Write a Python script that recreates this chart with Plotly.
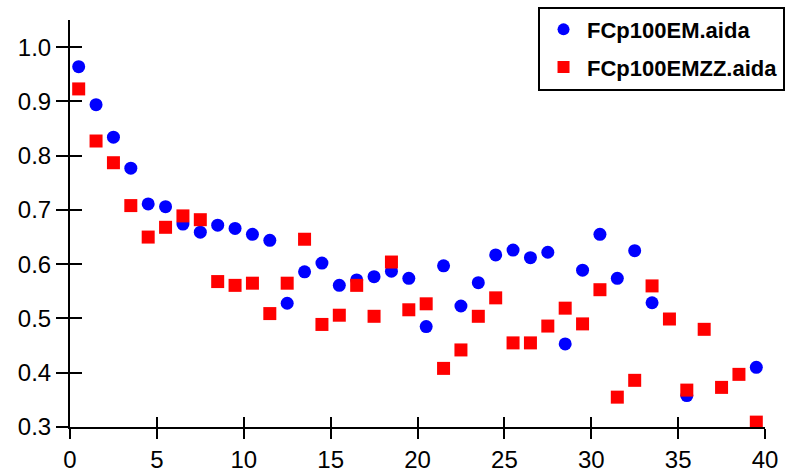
import plotly.graph_objects as go

# Bin centres (40 bins of width 1 between 0 and 40)
bins = [i + 0.5 for i in range(40)]

# Efficiency per bin, FCp100EM.aida (None where the value lies below the axis range)
em_values = [
    0.964, 0.894, 0.834, 0.777, 0.711, 0.706, 0.674, 0.659, 0.672, 0.666,
    0.655, 0.644, 0.528, 0.586, 0.602, 0.561, 0.571, 0.577, 0.587, 0.574,
    0.485, 0.597, 0.523, 0.566, 0.617, 0.626, 0.612, 0.622, 0.453, 0.589,
    0.655, 0.574, 0.625, 0.529, None, 0.358, None, None, None, 0.410,
]

# Efficiency per bin, FCp100EMZZ.aida
emzz_values = [
    0.923, 0.827, 0.787, 0.708, 0.650, 0.668, 0.689, 0.682, 0.568, 0.561,
    0.565, 0.509, 0.565, 0.646, 0.489, 0.506, 0.561, 0.504, 0.604, 0.516,
    0.527, 0.408, 0.442, 0.504, 0.538, 0.455, 0.455, 0.486, 0.519, 0.490,
    0.553, 0.355, 0.386, 0.560, 0.499, 0.368, 0.480, 0.373, 0.397, 0.309,
]

x_ticks = [0, 5, 10, 15, 20, 25, 30, 35, 40]
y_ticks = [0.3, 0.4, 0.5, 0.6, 0.7, 0.8, 0.9, 1.0]

FONT = "Liberation Sans, Arial, sans-serif"

fig = go.Figure()
fig.add_trace(go.Scatter(
    x=bins, y=em_values, mode="markers", name="FCp100EM.aida",
    legendgroup="em",
    marker=dict(symbol="circle", size=13, color="#0000ff", line=dict(width=0)),
))
fig.add_trace(go.Scatter(
    x=bins, y=emzz_values, mode="markers", name="FCp100EMZZ.aida",
    legendgroup="emzz",
    marker=dict(symbol="square", size=13, color="#ff0000", line=dict(width=0)),
))
# transparent copy on the overlaid axes so their inner tick marks are drawn
fig.add_trace(go.Scatter(x=bins, y=emzz_values, xaxis="x2", yaxis="y2",
                         mode="markers", marker=dict(opacity=0),
                         showlegend=False, hoverinfo="skip"))

axis_common = dict(showgrid=False, zeroline=False, tickcolor="black",
                   tickwidth=2)

fig.update_layout(
    width=788, height=476,
    margin=dict(l=70, r=23, t=20, b=49, autoexpand=False),
    paper_bgcolor="white", plot_bgcolor="white",
    font=dict(family=FONT, size=24, color="black"),
    xaxis=dict(range=[0, 40], tickvals=x_ticks, ticks="outside", ticklen=10,
               showline=True, linecolor="black", linewidth=2,
               tickfont=dict(size=24), **axis_common),
    yaxis=dict(range=[0.3, 1.05], tickvals=y_ticks, tickformat=".1f",
               ticks="outside", ticklen=12,
               showline=True, linecolor="black", linewidth=2,
               tickfont=dict(size=24), **axis_common),
    xaxis2=dict(range=[0, 40], tickvals=x_ticks, ticks="inside", ticklen=10,
                overlaying="x", anchor="y2", side="bottom",
                showticklabels=False, showline=False, **axis_common),
    yaxis2=dict(range=[0.3, 1.05], tickvals=y_ticks, ticks="inside",
                ticklen=12, overlaying="y", anchor="x2", side="left",
                showticklabels=False, showline=False, **axis_common),
    legend=dict(
        x=1.0288, y=1.033, xanchor="right", yanchor="top",
        bgcolor="white", bordercolor="black", borderwidth=2,
        font=dict(family=FONT, size=22, color="black", weight="bold"),
        itemsizing="constant", itemwidth=37, tracegroupgap=6,
    ),
    showlegend=True,
)

fig.write_html("out.html")
